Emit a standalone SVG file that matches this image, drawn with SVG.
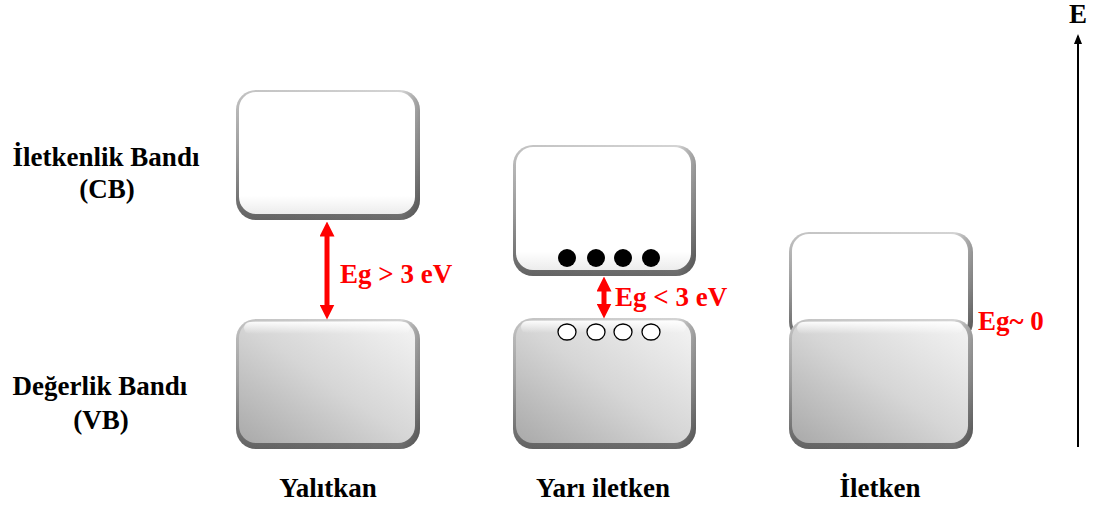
<svg xmlns="http://www.w3.org/2000/svg" width="1097" height="507" viewBox="0 0 1097 507">
<defs>
<linearGradient id="edge" x1="0" y1="0" x2="0" y2="1">
<stop offset="0" stop-color="#d4d4d4"/><stop offset="0.5" stop-color="#a8a8a8"/><stop offset="1" stop-color="#6a6a6a"/>
</linearGradient>
<linearGradient id="edgeH" x1="0" y1="0" x2="1" y2="0">
<stop offset="0" stop-color="#000" stop-opacity="0.08"/><stop offset="0.9" stop-color="#000" stop-opacity="0"/><stop offset="1" stop-color="#000" stop-opacity="0.25"/>
</linearGradient>
<linearGradient id="vbFace" x1="0" y1="1" x2="1" y2="0">
<stop offset="0" stop-color="#a9a9a9"/><stop offset="0.5" stop-color="#d6d6d6"/><stop offset="1" stop-color="#f4f4f4"/>
</linearGradient>
<linearGradient id="cbFace" x1="0" y1="0" x2="0" y2="1">
<stop offset="0" stop-color="#ffffff"/><stop offset="0.85" stop-color="#ffffff"/><stop offset="1" stop-color="#ececec"/>
</linearGradient>
<linearGradient id="hl" x1="0" y1="0" x2="0" y2="1">
<stop offset="0" stop-color="#fff" stop-opacity="0.9"/><stop offset="1" stop-color="#fff" stop-opacity="0"/>
</linearGradient>
<marker id="ah" viewBox="0 0 10 10" refX="5" refY="5" markerWidth="3" markerHeight="3" orient="auto-start-reverse">
<path d="M0,0 L10,5 L0,10 z" fill="#ff0000"/>
</marker>
<marker id="ahk" viewBox="0 0 10 10" refX="8" refY="5" markerWidth="5" markerHeight="5" orient="auto">
<path d="M0,1 L10,5 L0,9 z" fill="#000"/>
</marker>
</defs>
<style>
.lbl{font-family:"Liberation Serif","Times New Roman",serif;font-weight:bold;font-size:27px;fill:#000}
.eg{font-family:"Liberation Serif","Times New Roman",serif;font-weight:bold;font-size:27px;fill:#ff0000}
.edge{fill:url(#edge)}
.shade{fill:url(#edgeH)}
.cb{fill:url(#cbFace)}
.vb{fill:url(#vbFace)}
.hl{fill:url(#hl)}
.el{fill:#000}
.hole{fill:#fff;stroke:#000;stroke-width:1.3}
.red{stroke:#ff0000;stroke-width:5;fill:none}
</style>

<g id="insulator-cb">
<rect class="edge" x="236" y="90" width="184" height="130" rx="20"/>
<rect class="shade" x="236" y="90" width="184" height="130" rx="20"/>
<rect class="cb" x="239" y="92" width="176" height="122" rx="17"/>
</g>
<g id="insulator-vb">
<rect class="edge" x="236" y="319" width="184" height="130" rx="20"/>
<rect class="shade" x="236" y="319" width="184" height="130" rx="20"/>
<rect class="vb" x="239" y="321" width="176" height="122" rx="17"/>
<rect class="hl" x="244" y="322" width="166" height="12" rx="6"/>
</g>

<g id="semi-cb">
<rect class="edge" x="513" y="145" width="183" height="131" rx="20"/>
<rect class="shade" x="513" y="145" width="183" height="131" rx="20"/>
<rect class="cb" x="516" y="147" width="175" height="123" rx="17"/>
<circle class="el" cx="567" cy="258" r="9"/>
<circle class="el" cx="596" cy="258" r="9"/>
<circle class="el" cx="623" cy="258" r="9"/>
<circle class="el" cx="651" cy="258" r="9"/>
</g>
<g id="semi-vb">
<rect class="edge" x="513" y="318" width="183" height="131" rx="20"/>
<rect class="shade" x="513" y="318" width="183" height="131" rx="20"/>
<rect class="vb" x="516" y="320" width="175" height="123" rx="17"/>
<rect class="hl" x="521" y="321" width="165" height="12" rx="6"/>
<ellipse class="hole" cx="567" cy="332" rx="9" ry="8"/>
<ellipse class="hole" cx="596" cy="332" rx="9" ry="8"/>
<ellipse class="hole" cx="623" cy="332" rx="9" ry="8"/>
<ellipse class="hole" cx="651" cy="332" rx="9" ry="8"/>
</g>

<g id="conductor-cb">
<rect class="edge" x="789" y="232" width="184" height="110" rx="20"/>
<rect class="shade" x="789" y="232" width="184" height="110" rx="20"/>
<rect class="cb" x="792" y="234" width="176" height="104" rx="17"/>
</g>
<g id="conductor-vb">
<rect class="edge" x="789" y="319" width="184" height="130" rx="20"/>
<rect class="shade" x="789" y="319" width="184" height="130" rx="20"/>
<rect class="vb" x="792" y="321" width="176" height="122" rx="17"/>
<rect class="hl" x="797" y="322" width="166" height="12" rx="6"/>
</g>

<g id="connectors">
<line class="red" x1="327" y1="229" x2="327" y2="312" marker-start="url(#ah)" marker-end="url(#ah)"/>
<line class="red" x1="604" y1="284" x2="604" y2="311" marker-start="url(#ah)" marker-end="url(#ah)"/>
<line x1="1078" y1="447" x2="1078" y2="36" stroke="#000" stroke-width="2" marker-end="url(#ahk)"/>
</g>

<g id="labels">
<text class="lbl" x="106" y="166" text-anchor="middle">İletkenlik Bandı</text>
<text class="lbl" x="107" y="198" text-anchor="middle">(CB)</text>
<text class="lbl" x="100" y="395" text-anchor="middle">Değerlik Bandı</text>
<text class="lbl" x="101" y="429" text-anchor="middle">(VB)</text>
<text class="lbl" x="328" y="497" text-anchor="middle">Yalıtkan</text>
<text class="lbl" x="603" y="497" text-anchor="middle">Yarı iletken</text>
<text class="lbl" x="880" y="497" text-anchor="middle">İletken</text>
<text class="lbl" x="1078" y="23" text-anchor="middle">E</text>
<text class="eg" x="340" y="283">Eg &gt; 3 eV</text>
<text class="eg" x="615" y="306">Eg &lt; 3 eV</text>
<text class="eg" x="978" y="330">Eg~ 0</text>
</g>
</svg>
